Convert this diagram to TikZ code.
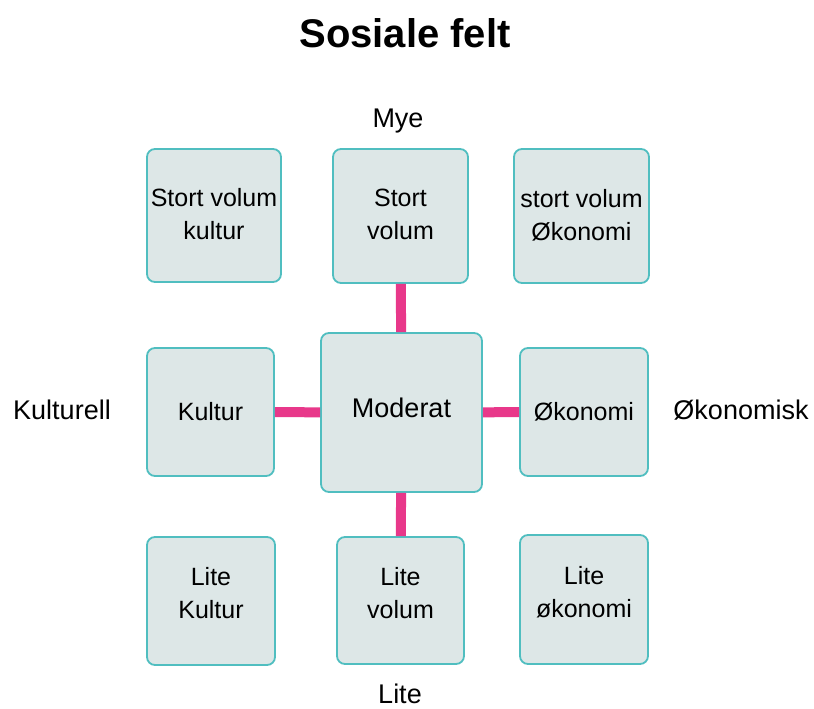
\documentclass[tikz,border=0pt]{standalone}
\usepackage{fontspec}
\setmainfont{Liberation Sans}
\usepackage{tikz}
\usetikzlibrary{positioning}
\definecolor{boxfill}{RGB}{221,231,231}
\definecolor{boxline}{RGB}{80,190,192}
\definecolor{linkpink}{RGB}{232,56,138}

\begin{document}
\begin{tikzpicture}[x=1pt,y=-1pt,
    box/.style={rectangle,rounded corners=8pt,draw=boxline,line width=1.8pt,fill=boxfill,
      align=center,inner sep=0pt,font=\fontsize{25}{33}\selectfont},
    lift/.style={text depth=#1},
    link/.style={linkpink,line width=10pt},
    axis/.style={font=\fontsize{27}{33}\selectfont}]
    \useasboundingbox (0,0) rectangle (814,709);

    \node[font=\bfseries\fontsize{40}{48}\selectfont] (title) at (405,33) {Sosiale felt};

    \node[box,lift=3pt,minimum width=134pt,minimum height=133pt] (bigcult) at (214,215.5) {Stort volum\\kultur};
    \node[box,lift=3pt,minimum width=135pt,minimum height=134pt] (bigvol) at (400.5,216) {Stort\\volum};
    \node[box,lift=3pt,minimum width=135pt,minimum height=134pt] (bigeco) at (581.5,216) {stort volum\\Økonomi};
    \node[box,minimum width=127pt,minimum height=128pt] (cult) at (210.5,412) {Kultur};
    \node[box,lift=9pt,minimum width=161pt,minimum height=159pt,font=\fontsize{27}{33}\selectfont] (mod) at (401.5,412.5) {Moderat};
    \node[box,minimum width=128pt,minimum height=128pt] (eco) at (584,412) {Økonomi};
    \node[box,lift=16pt,minimum width=128pt,minimum height=128pt] (smallcult) at (211,601) {Lite\\Kultur};
    \node[box,lift=16pt,minimum width=127pt,minimum height=127pt] (smallvol) at (400.5,600.5) {Lite\\volum};
    \node[box,lift=16pt,minimum width=128pt,minimum height=129pt] (smalleco) at (584,599.5) {Lite\\økonomi};

    \draw[link] (bigvol) -- (mod);
    \draw[link] (cult) -- (mod);
    \draw[link] (mod) -- (eco);
    \draw[link] (mod) -- (smallvol);

    \node[axis] (much) at (398,121) {Mye};
    \node[axis] (little) at (400,694) {Lite};
    \node[axis] (cultural) at (62,410) {Kulturell};
    \node[axis] (economic) at (741,410) {Økonomisk};

\end{tikzpicture}
\end{document}
